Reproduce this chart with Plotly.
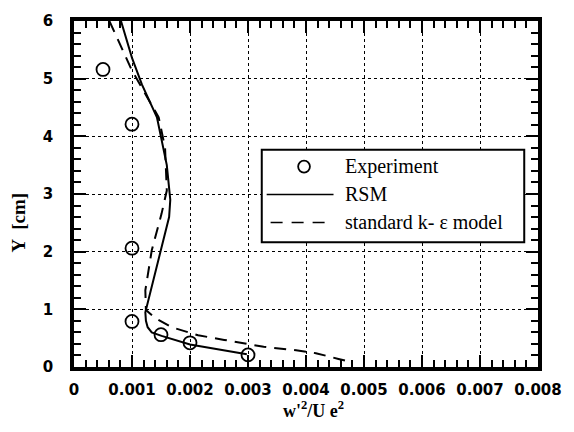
import plotly.graph_objects as go

# Measured profile of w'^2/Ue^2 against wall distance Y (cm)
exp_x = [0.0005, 0.001, 0.001, 0.001, 0.0015, 0.002, 0.003]
exp_y = [5.16, 4.21, 2.06, 0.79, 0.56, 0.42, 0.21]

# Reynolds-stress model prediction
rsm_x = [0.00081, 0.0010, 0.00117, 0.00143, 0.00160, 0.00166, 0.00164, 0.00157,
         0.00140, 0.00126, 0.00123, 0.00124, 0.00127, 0.00134, 0.00151, 0.0020,
         0.00259, 0.00298]
rsm_y = [6.0, 5.36, 4.9, 4.33, 3.5, 2.9, 2.6, 2.32,
         1.62, 1.1, 0.95, 0.8, 0.69, 0.6, 0.54, 0.39,
         0.28, 0.22]

# Standard k-epsilon model prediction
ke_x = [0.00061, 0.0010, 0.00146, 0.00157, 0.00160, 0.00151, 0.00134, 0.00123,
        0.00124, 0.0014, 0.00168, 0.00214, 0.00259, 0.00327, 0.00383, 0.00417,
        0.00456, 0.0048]
ke_y = [6.0, 5.14, 4.33, 3.8, 3.06, 2.66, 2.02, 1.33,
        0.99, 0.85, 0.69, 0.55, 0.47, 0.35, 0.29, 0.24,
        0.14, 0.08]

x_ticks = [0, 0.001, 0.002, 0.003, 0.004, 0.005, 0.006, 0.007, 0.008]
x_tick_text = ["0", "0.001", "0.002", "0.003", "0.004", "0.005", "0.006", "0.007", "0.008"]
y_ticks = [0, 1, 2, 3, 4, 5, 6]
y_tick_text = ["0", "1", "2", "3", "4", "5", "6"]

legend_labels = ["Experiment", "RSM", "standard k- \u03b5 model"]

W, H = 574, 432
L, R, T, B = 74, 28, 20, 65
PW, PH = W - L - R, H - T - B


def px(xp):
    return (xp - L) / PW


def py(yp):
    return (H - B - yp) / PH


tick_font = dict(family="DejaVu Sans", size=15, color="black", weight="bold")
serif = "Liberation Serif, Times New Roman, serif"

fig = go.Figure()
fig.add_trace(go.Scatter(x=rsm_x, y=rsm_y, mode="lines",
                         line=dict(color="black", width=2), showlegend=False))
fig.add_trace(go.Scatter(x=ke_x, y=ke_y, mode="lines",
                         line=dict(color="black", width=2, dash="12px,8px"),
                         showlegend=False))
fig.add_trace(go.Scatter(x=exp_x, y=exp_y, mode="markers",
                         marker=dict(symbol="circle-open", size=13, color="black",
                                     line=dict(width=1.8, color="black")),
                         showlegend=False, cliponaxis=False))

axis_common = dict(
    ticks="inside", ticklen=12, tickwidth=2, tickcolor="black",
    showline=True, linewidth=3.5, linecolor="black", mirror="ticks",
    showgrid=True, gridcolor="black", gridwidth=1, griddash="dot",
    zeroline=False, tickfont=tick_font,
)

fig.update_xaxes(range=[0, 0.008], tickmode="array", tickvals=x_ticks,
                 ticktext=x_tick_text, ticklabelstandoff=6,
                 minor=dict(tickmode="linear", tick0=0, dtick=0.0002, ticks="inside",
                            ticklen=7, tickwidth=2, tickcolor="black", showgrid=False),
                 **axis_common)
fig.update_yaxes(range=[0, 6], tickmode="array", tickvals=y_ticks,
                 ticktext=y_tick_text, ticklabelstandoff=14,
                 minor=dict(tickmode="linear", tick0=0, dtick=0.2, ticks="inside",
                            ticklen=7, tickwidth=2, tickcolor="black", showgrid=False),
                 **axis_common)

shapes = []
annotations = []

# legend frame
shapes.append(dict(type="rect", xref="paper", yref="paper",
                   x0=px(265), x1=px(532), y0=py(242), y1=py(149),
                   line=dict(color="black", width=2), fillcolor="white", layer="above"))
# legend symbols
shapes.append(dict(type="circle", xref="paper", yref="paper",
                   x0=px(302), x1=px(314), y0=py(172), y1=py(160),
                   line=dict(color="black", width=1.8), layer="above"))
shapes.append(dict(type="line", xref="paper", yref="paper",
                   x0=px(270), x1=px(338), y0=py(194), y1=py(194),
                   line=dict(color="black", width=1.5), layer="above"))
shapes.append(dict(type="line", xref="paper", yref="paper",
                   x0=px(274), x1=px(338), y0=py(222), y1=py(222),
                   line=dict(color="black", width=1.5, dash="12px,9px"), layer="above"))
for label, yp in zip(legend_labels, [166, 194, 222]):
    annotations.append(dict(text=label, xref="paper", yref="paper",
                            x=px(348), y=py(yp), xanchor="left", yanchor="middle",
                            showarrow=False,
                            font=dict(family=serif, size=20, color="black")))

# axis titles
annotations.append(dict(text="w'<sup>2</sup>/U e<sup>2</sup>", xref="paper", yref="paper",
                        x=px(318), y=py(410), xanchor="center", yanchor="middle",
                        showarrow=False,
                        font=dict(family=serif, size=18, color="black", weight="bold")))
annotations.append(dict(text="Y  [cm]", xref="paper", yref="paper",
                        x=px(17), y=py(222), xanchor="center", yanchor="middle",
                        textangle=-90, showarrow=False,
                        font=dict(family=serif, size=19, color="black", weight="bold")))

fig.update_layout(
    width=W, height=H,
    margin=dict(l=L, r=R, t=T, b=B),
    paper_bgcolor="white", plot_bgcolor="white",
    shapes=shapes, annotations=annotations,
    showlegend=False,
)

fig.write_html("out.html")
